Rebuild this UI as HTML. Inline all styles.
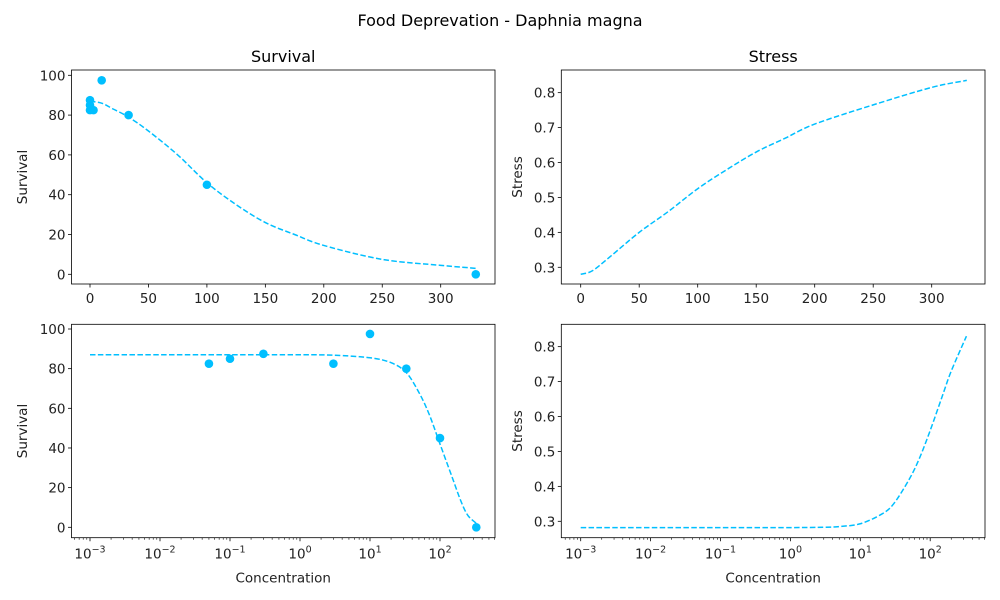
<!DOCTYPE html>
<html><head><meta charset="utf-8"><style>
html,body{margin:0;padding:0;background:#fff}
svg{display:block;font-family:"DejaVu Sans","Liberation Sans",sans-serif}
</style></head><body>
<svg id="fig" width="1000" height="600" viewBox="0 0 1000 600" xmlns="http://www.w3.org/2000/svg">
<rect width="1000" height="600" fill="#fff"/>
<text x="500" y="26" text-anchor="middle" font-size="16">Food Deprevation - Daphnia magna</text>
</svg>
<script>
// ---- data ----
const obsConcLin = [0, 0, 0, 3, 10, 33, 100, 330];
const obsSurvLin = [87.5, 85, 82.5, 82.5, 97.5, 80, 45, 0];
const obsConcLog = [0.05, 0.1, 0.3, 3, 10, 33, 100, 330];
const obsSurvLog = [82.5, 85, 87.5, 82.5, 97.5, 80, 45, 0];
const survCurveConc = [0, 10, 20, 33, 50, 75, 100, 125, 150, 175, 200, 250, 300, 330];
const survCurveVal  = [87, 86, 83, 79, 72, 60, 46, 35, 26, 20, 14.5, 7.5, 4.5, 3];
const survLogConc = [0.001, 0.01, 0.1, 1, 3, 10, 20, 33, 50, 70, 100, 150, 200, 250, 330];
const survLogVal  = [87, 87, 87, 87, 86.8, 85.5, 83, 78, 68, 57, 42, 25, 13, 6, 2];
const stressConc = [0, 10, 25, 50, 75, 100, 125, 150, 175, 200, 250, 300, 330];
const stressVal  = [0.28, 0.29, 0.33, 0.40, 0.46, 0.525, 0.58, 0.63, 0.67, 0.71, 0.765, 0.815, 0.835];
const stressLogConc = [0.001, 0.01, 0.1, 1, 3, 5, 10, 20, 30, 50, 70, 100, 150, 200, 330];
const stressLogVal  = [0.282, 0.282, 0.282, 0.282, 0.283, 0.285, 0.293, 0.32, 0.35, 0.42, 0.48, 0.56, 0.66, 0.73, 0.83];
const linTicks = [0, 50, 100, 150, 200, 250, 300];
const survTicks = [0, 20, 40, 60, 80, 100];
const stressTicks = [0.3, 0.4, 0.5, 0.6, 0.7, 0.8];
const logTicks = [-3, -2, -1, 0, 1, 2];

const NS = "http://www.w3.org/2000/svg";
const svg = document.getElementById('fig');
const C = '#00bfff';
function mk(tag, attrs, parent){ const e=document.createElementNS(NS,tag); for(const k in attrs) e.setAttribute(k,attrs[k]); (parent||svg).appendChild(e); return e; }

function smoothPath(p){
  let d='M'+p[0][0].toFixed(2)+','+p[0][1].toFixed(2);
  for(let i=0;i<p.length-1;i++){
    const p0=p[Math.max(0,i-1)], p1=p[i], p2=p[i+1], p3=p[Math.min(p.length-1,i+2)];
    const c1=[p1[0]+(p2[0]-p0[0])/6, p1[1]+(p2[1]-p0[1])/6];
    const c2=[p2[0]-(p3[0]-p1[0])/6, p2[1]-(p3[1]-p1[1])/6];
    d+=` C${c1[0].toFixed(2)},${c1[1].toFixed(2)} ${c2[0].toFixed(2)},${c2[1].toFixed(2)} ${p2[0].toFixed(2)},${p2[1].toFixed(2)}`;
  }
  return d;
}

function panel(o){
  const g = mk('g',{});
  
  
  const X = o.log ? v => o.x0 + (Math.log10(v) - o.xa) * o.xs : v => o.x0 + (v - o.xa) * o.xs;
  const Y = v => o.y0 - (v - o.ya) * o.ys;
  o.yt.forEach(t=>{
    const y=Y(t);
    mk('line',{x1:o.L-3.5,x2:o.L,y1:y,y2:y,stroke:'#000','stroke-width':0.8},g);
    const tx=mk('text',{x:o.L-6,y:y+5,'text-anchor':'end','font-size':13.5,fill:'#222'},g);
    tx.textContent = o.ydec ? t.toFixed(1) : String(t);
    
    
  });
  if(o.log){
    for(let d=-4; d<=2; d++){
      for(let m=2;m<=9;m++){
        const v=m*Math.pow(10,d); const x=X(v);
        if(x<o.L||x>o.R) continue;
        mk('line',{x1:x,x2:x,y1:o.B,y2:o.B+2,stroke:'#000','stroke-width':0.6},g);
      }
    }
    logTicks.forEach(t=>{
      const x=X(Math.pow(10,t));
      mk('line',{x1:x,x2:x,y1:o.B,y2:o.B+3.5,stroke:'#000','stroke-width':0.8},g);
      const tx=mk('text',{x:x,y:o.B+21,'text-anchor':'middle','font-size':13.5,fill:'#222'},g);
      
      
      const a=document.createElementNS(NS,'tspan'); a.textContent='10'; tx.appendChild(a);
      const b=document.createElementNS(NS,'tspan'); b.setAttribute('dy','-6'); b.setAttribute('font-size','9.5'); b.textContent=(t<0?'\u2212':'')+Math.abs(t); tx.appendChild(b);
    });
    const xl=mk('text',{x:(o.L+o.R)/2,y:o.B+45,'text-anchor':'middle','font-size':13.5,fill:'#222'},g);
    xl.textContent='Concentration';
    
    
  } else {
    linTicks.forEach(t=>{
      const x=X(t);
      mk('line',{x1:x,x2:x,y1:o.B,y2:o.B+3.5,stroke:'#000','stroke-width':0.8},g);
      const tx=mk('text',{x:x,y:o.B+19,'text-anchor':'middle','font-size':13.5,fill:'#222'},g);
      tx.textContent=String(t);
      
      
    });
  }
  const pts = o.cx.map((v,i)=>[X(v), Y(o.cy[i])]);
  const pl = mk('path',{d:smoothPath(pts),fill:'none',stroke:C,'stroke-width':1.5,'stroke-dasharray':'5.5,2.4'},g);
  
  
  if(o.px){
    o.px.forEach((v,i)=>{
      const c=mk('circle',{cx:X(v),cy:Y(o.py[i]),r:4.3,fill:C},g);
      
      
    });
  }
  mk('rect',{x:o.L,y:o.T,width:o.R-o.L,height:o.B-o.T,fill:'none',stroke:'#000','stroke-width':0.8},g);
  const yl=mk('text',{x:0,y:0,'text-anchor':'middle','font-size':13.5,fill:'#222',transform:`translate(${o.ylx},${(o.T+o.B)/2}) rotate(-90)`},g);
  yl.textContent=o.ylabel;
  
  
  if(o.title){
    const t=mk('text',{x:(o.L+o.R)/2,y:o.T-8,'text-anchor':'middle','font-size':16,fill:'#000'},g);
    t.textContent=o.title;
    
    
  }
}
const sY = 199/100, stY = 349.3;
panel({name:'survival-linear-plot',L:71.5,R:495,T:70,B:284,x0:90,xa:0,xs:350.7/300,y0:274.3,ya:0,ys:sY,yt:survTicks,cx:survCurveConc,cy:survCurveVal,px:obsConcLin,py:obsSurvLin,ylabel:'Survival',ylx:27,title:'Survival'});
panel({name:'stress-linear-plot',L:561.3,R:985,T:70,B:284,x0:580.7,xa:0,xs:351/300,y0:267.3,ya:0.3,ys:stY,yt:stressTicks,ydec:true,cx:stressConc,cy:stressVal,ylabel:'Stress',ylx:522,title:'Stress'});
panel({name:'survival-log-plot',log:true,L:71.5,R:495,T:324.3,B:537.7,x0:90,xa:-3,xs:70,y0:527.3,ya:0,ys:198.3/100,yt:survTicks,cx:survLogConc,cy:survLogVal,px:obsConcLog,py:obsSurvLog,ylabel:'Survival',ylx:27});
panel({name:'stress-log-plot',log:true,L:561.3,R:985,T:324.3,B:537.7,x0:580.7,xa:-3,xs:69.9,y0:521.3,ya:0.3,ys:stY,yt:stressTicks,ydec:true,cx:stressLogConc,cy:stressLogVal,ylabel:'Stress',ylx:522});
</script>
</body></html>
